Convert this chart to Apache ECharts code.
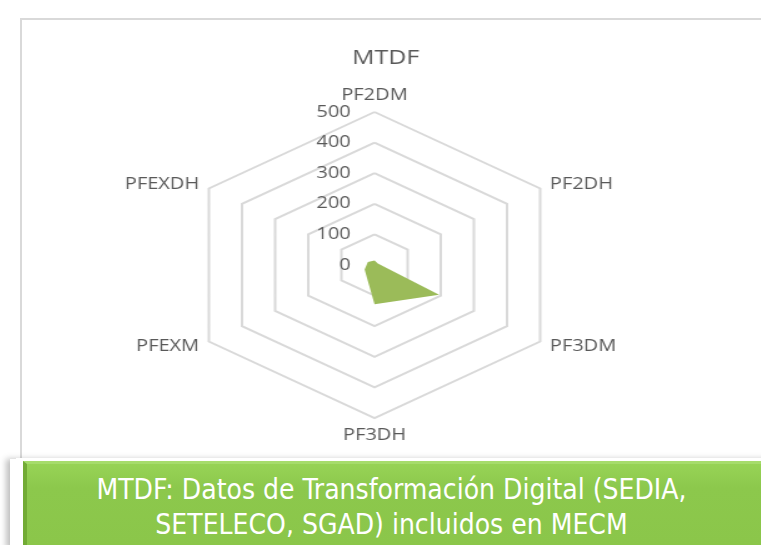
<!DOCTYPE html>
<html>
<head>
<meta charset="utf-8">
<script src="https://cdn.jsdelivr.net/npm/echarts@6/dist/echarts.min.js"></script>
<style>
  html, body { margin: 0; padding: 0; width: 761px; height: 545px; overflow: hidden; background: #fff; }
  .box {
    position: absolute; left: 20px; top: 18px; width: 760px; height: 438px;
    border: 2px solid #d9d9d9; overflow: hidden; background: #fff;
  }
  .chart {
    position: absolute; left: 0; top: 0; width: 600px; height: 438px;
    transform: scaleX(1.25); transform-origin: 0 0;
  }
  .shadow {
    position: absolute; left: 10px; top: 459px; width: 760px; height: 90px;
    background: #fff; box-shadow: -4px 0 6px rgba(0,0,0,0.25);
  }
  .banner {
    position: absolute; left: 16px; top: 458px; width: 760px; height: 90px;
    background: #fff; padding: 3px 0 0 7px; box-sizing: border-box;
  }
  .banner-inner {
    width: 100%; height: 100%;
    background: linear-gradient(#97d356, #8cc84c 30%, #8bc64a);
    border-top: 3px solid #a6dc6c; border-left: 4px solid #72ab35; border-bottom: 3px solid #6fa331;
    box-sizing: border-box; color: #fff; text-align: center;
    font-family: "Liberation Sans Narrow", "DejaVu Sans Condensed", sans-serif;
    font-size: 28px; line-height: 35px; padding: 8px 20px 0 0;
  }
</style>
</head>
<body>
<div class="box"><div class="chart" id="chart"></div></div>
<div class="shadow"></div>
<div class="banner"><div class="banner-inner">MTDF: Datos de Transformación Digital (SEDIA,<br>SETELECO, SGAD) incluidos en MECM</div></div>
<script>
// clockwise from the top, as in the reference
const categories = ['PF2DM', 'PF2DH', 'PF3DM', 'PF3DH', 'PFEXM', 'PFEXDH']
const values = [15, 10, 195, 128, 30, 20]
const tickLabels = [0, 100, 200, 300, 400, 500]

// echarts places indicators counter-clockwise, so keep the first and reverse the rest
const order = [0].concat(categories.map((c, i) => i).slice(1).reverse())
const maxVal = tickLabels[tickLabels.length - 1]

const mChart = echarts.init(document.getElementById('chart'))
const options = {
  animation: false,
  title: {
    text: 'MTDF',
    left: 286,
    top: 23,
    textAlign: 'center',
    textStyle: { color: '#595959', fontSize: 20, fontWeight: 'normal', fontFamily: 'Open Sans' }
  },
  radar: {
    center: [282, 245],
    radius: 153,
    startAngle: 90,
    shape: 'polygon',
    splitNumber: tickLabels.length - 1,
    axisNameGap: 9,
    axisName: { color: '#595959', fontSize: 16, fontFamily: 'Open Sans' },
    axisLine: { show: false },
    axisTick: { show: false },
    axisLabel: { show: false },
    splitArea: { show: false },
    splitLine: { lineStyle: { color: '#d9d9d9', width: 2 } },
    indicator: order.map((i, k) => {
      const ind = { name: categories[i], min: 0, max: maxVal }
      if (k === 0) {
        ind.axisLabel = {
          show: true, color: '#595959', fontSize: 16, fontFamily: 'Open Sans', margin: 19,
          formatter: v => String(v)
        }
      }
      return ind
    })
  },
  series: [{
    type: 'radar',
    symbol: 'none',
    lineStyle: { width: 0 },
    areaStyle: { color: '#9bbb59', opacity: 1 },
    data: [{ value: order.map(i => values[i]) }]
  }]
}
mChart.setOption(options)
</script>
</body>
</html>
